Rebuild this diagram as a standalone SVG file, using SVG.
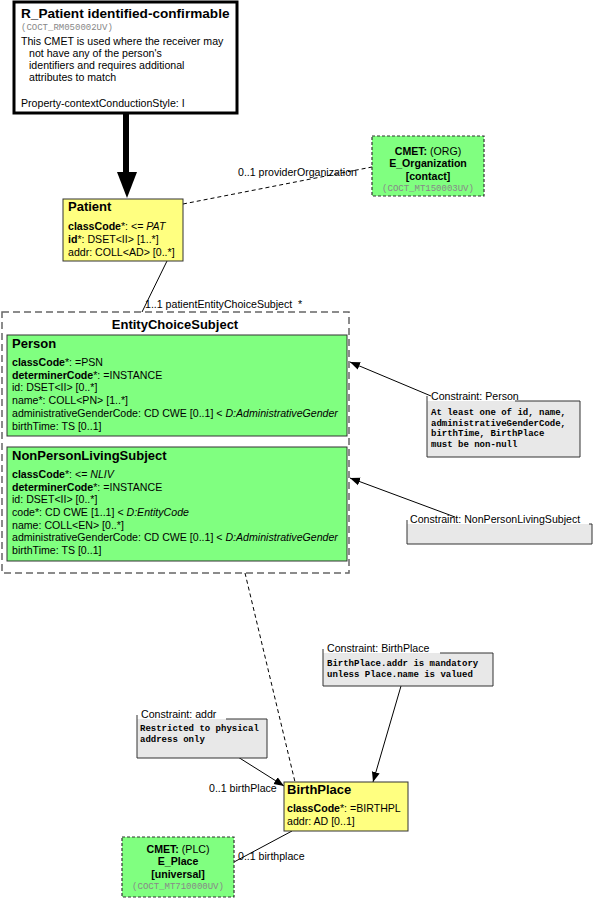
<svg xmlns="http://www.w3.org/2000/svg" width="594" height="899" viewBox="0 0 594 899">
<style>
text{font-family:"Liberation Sans",Arial,sans-serif;font-size:10.6px;fill:#000}
.t{font-weight:bold;font-size:13px}
.big{font-weight:bold;font-size:13.6px}
.b{font-weight:bold}
.i{font-style:italic}
.m{font-family:"Liberation Mono","Courier New",monospace;font-size:9px;font-weight:bold}
.code{font-family:"Liberation Mono","Courier New",monospace;font-size:9px;fill:#888}
.yel{fill:#FFFF80;stroke:#333;stroke-width:1}
.grn{fill:#80FF80;stroke:#333;stroke-width:1}
.cmet{fill:#80FF80;stroke:#333;stroke-width:1.2;stroke-dasharray:3,2}
.cfill{fill:#E8E8E8;stroke:none}
.cbord{fill:none;stroke:#333;stroke-width:1}
.ln{fill:none;stroke:#000;stroke-width:1}
.dl{fill:none;stroke:#000;stroke-width:1;stroke-dasharray:4,3}
</style>
<defs>
<marker id="ah" viewBox="0 0 10 10" refX="10" refY="5" markerWidth="10" markerHeight="10" markerUnits="userSpaceOnUse" orient="auto">
<path d="M0,1 L10,5 L0,9 Z" fill="#000"/>
</marker>
</defs>

<g id="connectors">
<line x1="126" y1="113" x2="126" y2="176" stroke="#000" stroke-width="6"/>
<polygon points="117,172 137,172 127,198" fill="#000"/>
<line class="dl" x1="183" y1="204" x2="372" y2="167"/>
<text x="238" y="176">0..1 providerOrganization</text>
<line class="ln" x1="167" y1="261" x2="142" y2="312"/>
<text x="145" y="308">1..1 patientEntityChoiceSubject</text>
<text x="298" y="308">*</text>
<line class="ln" x1="431" y1="396" x2="350" y2="362" marker-end="url(#ah)"/>
<line class="ln" x1="455" y1="517" x2="350" y2="478" marker-end="url(#ah)"/>
<line class="dl" x1="245" y1="573" x2="295" y2="782"/>
<line class="ln" x1="230" y1="752" x2="284" y2="786" marker-end="url(#ah)"/>
<text x="209" y="792">0..1 birthPlace</text>
<line class="ln" x1="401" y1="686" x2="373" y2="782" marker-end="url(#ah)"/>
<line class="ln" x1="234" y1="862" x2="292" y2="831"/>
<text x="238" y="860">0..1 birthplace</text>
</g>

<g id="R_Patient">
<rect x="14" y="2" width="223" height="111" fill="#fff" stroke="#000" stroke-width="3"/>
<text x="21" y="18" class="big">R_Patient identified-confirmable</text>
<text x="21" y="30" class="code">(COCT_RM050002UV)</text>
<text x="21" y="45">This CMET is used where the receiver may</text>
<text x="29" y="57">not have any of the person's</text>
<text x="29" y="69">identifiers and requires additional</text>
<text x="29" y="81">attributes to match</text>
<text x="21" y="107">Property-contextConductionStyle: I</text>
</g>

<g id="Patient">
<rect class="yel" x="63" y="199" width="120" height="62"/>
<text x="68" y="211" class="t">Patient</text>
<text x="68" y="230"><tspan class="b">classCode</tspan>*: &lt;= <tspan class="i">PAT</tspan></text>
<text x="68" y="243"><tspan class="b">id</tspan>*: DSET&lt;II&gt; [1..*]</text>
<text x="68" y="256">addr: COLL&lt;AD&gt; [0..*]</text>
</g>

<g id="E_Organization">
<rect class="cmet" x="372" y="136" width="112" height="60"/>
<text x="428" y="155" text-anchor="middle"><tspan class="b">CMET:</tspan> (ORG)</text>
<text x="428" y="167" text-anchor="middle" class="b">E_Organization</text>
<text x="428" y="180" text-anchor="middle" class="b">[contact]</text>
<text x="428" y="191" text-anchor="middle" class="code">(COCT_MT150003UV)</text>
</g>

<g id="EntityChoiceSubject">
<rect x="2" y="312" width="347" height="261" fill="#fff" stroke="#666" stroke-width="1.5" stroke-dasharray="7,4"/>
<text x="175" y="329" text-anchor="middle" class="t">EntityChoiceSubject</text>
</g>

<g id="Person">
<rect class="grn" x="7" y="335" width="340" height="101"/>
<text x="12" y="348" class="t">Person</text>
<text x="12" y="366"><tspan class="b">classCode</tspan>*: =PSN</text>
<text x="12" y="379"><tspan class="b">determinerCode</tspan>*: =INSTANCE</text>
<text x="12" y="391">id: DSET&lt;II&gt; [0..*]</text>
<text x="12" y="404">name*: COLL&lt;PN&gt; [1..*]</text>
<text x="12" y="417">administrativeGenderCode: CD CWE [0..1] &lt; <tspan class="i">D:AdministrativeGender</tspan></text>
<text x="12" y="430">birthTime: TS [0..1]</text>
</g>

<g id="NonPersonLivingSubject">
<rect class="grn" x="7" y="447" width="340" height="114"/>
<text x="12" y="460" class="t">NonPersonLivingSubject</text>
<text x="12" y="478"><tspan class="b">classCode</tspan>*: &lt;= <tspan class="i">NLIV</tspan></text>
<text x="12" y="491"><tspan class="b">determinerCode</tspan>*: =INSTANCE</text>
<text x="12" y="503">id: DSET&lt;II&gt; [0..*]</text>
<text x="12" y="516">code*: CD CWE [1..1] &lt; <tspan class="i">D:EntityCode</tspan></text>
<text x="12" y="529">name: COLL&lt;EN&gt; [0..*]</text>
<text x="12" y="541">administrativeGenderCode: CD CWE [0..1] &lt; <tspan class="i">D:AdministrativeGender</tspan></text>
<text x="12" y="554">birthTime: TS [0..1]</text>
</g>

<g id="ConstraintPerson">
<rect class="cfill" x="427" y="401" width="153" height="56"/>
<path class="cbord" d="M427,396 V457 H580 V401 H515"/>
<text x="431" y="400">Constraint: Person</text>
<text x="431" y="415" class="m">At least one of id, name,</text>
<text x="431" y="425.5" class="m">administrativeGenderCode,</text>
<text x="431" y="436" class="m">birthTime, BirthPlace</text>
<text x="431" y="446.5" class="m">must be non-null</text>
</g>

<g id="ConstraintNonPersonLivingSubject">
<rect class="cfill" x="407" y="524" width="185" height="20"/>
<path class="cbord" d="M407,520 V544 H592 V524 H589"/>
<text x="410" y="523">Constraint: NonPersonLivingSubject</text>
</g>

<g id="ConstraintBirthPlace">
<rect class="cfill" x="323" y="653" width="170" height="33"/>
<path class="cbord" d="M323,649 V686 H493 V653 H440"/>
<text x="327" y="652">Constraint: BirthPlace</text>
<text x="327" y="666" class="m">BirthPlace.addr is mandatory</text>
<text x="327" y="677" class="m">unless Place.name is valued</text>
</g>

<g id="ConstraintAddr">
<rect class="cfill" x="137" y="719" width="130" height="39"/>
<path class="cbord" d="M137,715 V758 H267 V719 H226"/>
<text x="141" y="718">Constraint: addr</text>
<text x="140" y="731" class="m">Restricted to physical</text>
<text x="140" y="742" class="m">address only</text>
</g>

<g id="BirthPlace">
<rect class="yel" x="284" y="782" width="124" height="49"/>
<text x="287" y="794" class="t">BirthPlace</text>
<text x="287" y="812"><tspan class="b">classCode</tspan>*: =BIRTHPL</text>
<text x="287" y="825">addr: AD [0..1]</text>
</g>

<g id="E_Place">
<rect class="cmet" x="122" y="837" width="112" height="60"/>
<text x="178" y="853" text-anchor="middle"><tspan class="b">CMET:</tspan> (PLC)</text>
<text x="178" y="865" text-anchor="middle" class="b">E_Place</text>
<text x="178" y="878" text-anchor="middle" class="b">[universal]</text>
<text x="178" y="889" text-anchor="middle" class="code">(COCT_MT710000UV)</text>
</g>
</svg>
